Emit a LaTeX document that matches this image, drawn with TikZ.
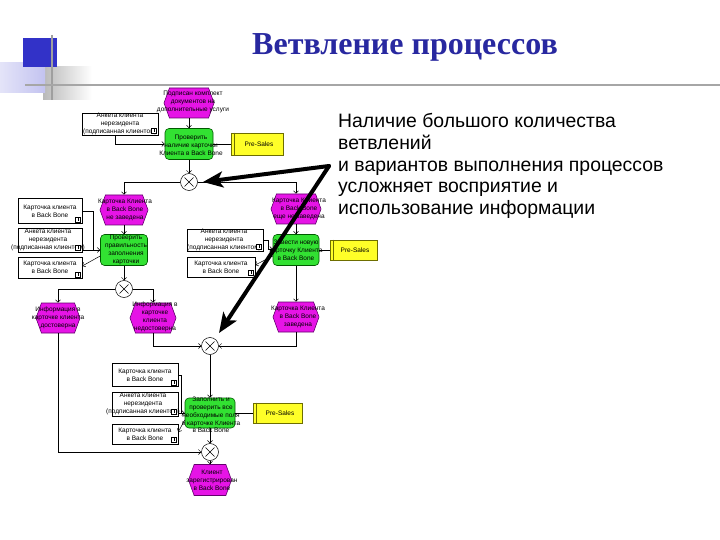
\documentclass[tikz,border=0pt]{standalone}
\usepackage{fontspec}
\setmainfont{Liberation Sans}
\newfontfamily\titlefont{Liberation Serif}
\usetikzlibrary{shapes.symbols,arrows.meta,calc}
\definecolor{evfill}{RGB}{230,20,230}
\definecolor{evdraw}{RGB}{100,0,110}
\definecolor{fnfill}{RGB}{50,225,50}
\definecolor{fndraw}{RGB}{0,90,0}
\definecolor{orgfill}{RGB}{255,255,40}
\definecolor{orgdraw}{RGB}{110,110,0}
\definecolor{titleblue}{RGB}{40,40,160}
\definecolor{lav}{RGB}{195,195,240}
\definecolor{sqblue}{RGB}{50,50,200}
\begin{document}
\begin{tikzpicture}[x=1pt,y=-1pt,
  ev/.style={signal, signal to=east and west, signal pointer angle=140,
    draw=evdraw, fill=evfill, line width=0.6pt, minimum width=#1,
    minimum height=30pt, inner sep=0pt},
  ev/.default=48pt,
  fn/.style={draw=fndraw, fill=fnfill, line width=0.6pt, rounded corners=4pt,
    minimum width=#1, minimum height=31pt, inner sep=0pt},
  fn/.default=48pt,
  docbox/.style={draw=black, fill=white, line width=0.5pt, inner sep=0pt},
  orgbox/.style={draw=orgdraw, fill=orgfill, line width=0.6pt, inner sep=0pt,
    minimum height=20pt},
  xor/.style={circle, draw=black, fill=white, line width=0.5pt, minimum size=17pt,
    inner sep=0pt, path picture={
      \draw[line width=0.5pt] ([shift={(-4.5pt,-4.5pt)}]path picture bounding box.center)
        -- ([shift={(4.5pt,4.5pt)}]path picture bounding box.center);
      \draw[line width=0.5pt] ([shift={(-4.5pt,4.5pt)}]path picture bounding box.center)
        -- ([shift={(4.5pt,-4.5pt)}]path picture bounding box.center);}},
  lbl/.style={font=\fontsize{6.5}{7.8}\selectfont, align=center, inner sep=0pt, text=black},
  conn/.style={draw=black, line width=0.5pt, -{Straight Barb[length=2.5pt,width=5pt]}},
  plain/.style={draw=black, line width=0.5pt},
  bigarrow/.style={draw=black, line width=4pt, line cap=round,
    -{Stealth[length=20pt,width=16pt,inset=5pt]}},
  icon/.style={draw=black, line width=0.4pt}
]
\useasboundingbox (0,0) rectangle (720,540);
\fill[white] (0,0) rectangle (720,540);

% decoration
\shade[left color=gray!55, right color=white] (43,67) rectangle (92,100);
\shade[left color=lav!45!white, right color=lav] (0,63) rectangle (45,93);
\fill[sqblue] (23,38) rectangle (57,67);
\draw[gray!75, line width=1.2pt] (52,35) -- (52,100);
\draw[gray!70, line width=1.6pt] (25,85) -- (720,85);

% title
\node[font=\titlefont\bfseries\fontsize{32}{38}\selectfont, text=titleblue, anchor=base, inner sep=0pt]
  (title) at (405,55) {Ветвление процессов};

% right text
\node[font=\fontsize{19.4}{21.8}\selectfont, align=left, anchor=north west, inner sep=0pt]
  (note) at (338,113) {Наличие большого количества\\ветвлений\\и вариантов выполнения процессов\\усложняет восприятие и\\использование информации};

% ---------- top section
\node[ev=50pt] (e0) at (189,103) {};
\node[lbl] (te0) at (193,102) {Подписан комплект\\документов на\\дополнительные услуги};
\node[fn=48pt] (f0) at (189,144) {};
\node[lbl] (tf0) at (191,145) {Проверить\\наличие карточки\\Клиента в Back Bone};
\node[docbox, minimum width=76pt, minimum height=22pt] (d0) at (120,124) {};
\node[lbl] (td0) at (120,124) {Анкета клиента\\нерезидента\\(подписанная клиентом)};
\node[orgbox, minimum width=52pt, minimum height=22pt] (o0) at (257,144) {};
\node[lbl] (to0) at (259,144) {Pre-Sales};
\node[xor] (x0) at (189,182) {};

% ---------- second level
\node[ev=48pt] (e1L) at (124,210) {};
\node[lbl] (te1L) at (125,210) {Карточка Клиента\\в Back Bone\\не заведена};
\node[ev=50pt] (e1R) at (296,209) {};
\node[lbl] (te1R) at (299,209) {Карточка Клиента\\в Back Bone\\еще не заведена};

\node[docbox, minimum width=64pt, minimum height=25pt] (dL1) at (50,211) {};
\node[lbl] (tdL1) at (50,211) {Карточка клиента\\в Back Bone};
\node[docbox, minimum width=64pt, minimum height=24pt] (dL2) at (50,240) {};
\node[lbl] (tdL2) at (48,240) {Анкета клиента\\нерезидента\\(подписанная клиентом)};
\node[docbox, minimum width=64pt, minimum height=21pt] (dL3) at (50,268) {};
\node[lbl] (tdL3) at (50,267) {Карточка клиента\\в Back Bone};
\node[fn=47pt] (f1L) at (124,250) {};
\node[lbl] (tf1L) at (126,250) {Проверить\\правильность\\заполнения\\карточки};

\node[fn=46pt] (f1R) at (296,250) {};
\node[lbl] (tf1R) at (296,250) {Завести новую\\карточку Клиента\\в Back Bone};
\node[orgbox, minimum width=47pt] (oR) at (353.5,250) {};
\node[lbl] (toR) at (355,250) {Pre-Sales};
\node[docbox, minimum width=76pt, minimum height=22pt] (dR1) at (225,240) {};
\node[lbl] (tdR1) at (224,240) {Анкета клиента\\нерезидента\\(подписанная клиентом)};
\node[docbox, minimum width=68pt, minimum height=20pt] (dR2) at (221,267) {};
\node[lbl] (tdR2) at (221,267) {Карточка клиента\\в Back Bone};

\node[xor] (x1) at (124,289) {};

% ---------- third level
\node[ev=44pt] (e2a) at (58,318) {};
\node[lbl] (te2a) at (58,318) {Информация в\\карточке клиента\\достоверна};
\node[ev=46pt] (e2b) at (153,318) {};
\node[lbl] (te2b) at (155,317) {Информация в\\карточке\\клиента\\недостоверна};
\node[ev=46pt] (e2c) at (296,317) {};
\node[lbl] (te2c) at (298,317) {Карточка Клиента\\в Back Bone\\заведена};
\node[xor] (x2) at (210,346) {};

% ---------- fourth level
\node[fn=50pt, minimum height=30pt] (f2) at (210,413) {};
\node[lbl] (tf2) at (211,415) {Заполнить и\\проверить все\\необходимые поля\\в карточке Клиента\\в Back Bone};
\node[docbox, minimum width=66pt, minimum height=23pt] (dM1) at (145,375) {};
\node[lbl] (tdM1) at (145,375) {Карточка клиента\\в Back Bone};
\node[docbox, minimum width=66pt, minimum height=24pt] (dM2) at (145,404) {};
\node[lbl] (tdM2) at (143,404) {Анкета клиента\\нерезидента\\(подписанная клиентом)};
\node[docbox, minimum width=66pt, minimum height=20pt] (dM3) at (145,434) {};
\node[lbl] (tdM3) at (145,434) {Карточка клиента\\в Back Bone};
\node[orgbox, minimum width=49pt] (oM) at (277.5,413) {};
\node[lbl] (toM) at (280,413) {Pre-Sales};
\node[xor] (x3) at (210,452) {};
\node[ev=43pt, minimum height=31pt] (e3) at (210,480) {};
\node[lbl] (te3) at (212,480) {Клиент\\зарегистрирован\\в Back Bone};

% org unit inner lines
\foreach \o in {o0,oR,oM}{
  \draw[orgdraw, line width=0.6pt] ([shift={(4,0)}]\o.north west) -- ([shift={(4,0)}]\o.south west);
}
% document icons
\foreach \d in {d0,dL1,dL2,dL3,dR1,dR2,dM1,dM2,dM3}{
  \draw[icon, fill=white] ([shift={(-7,-7)}]\d.south east) rectangle ([shift={(-2,-2)}]\d.south east);
  \draw[icon] ([shift={(-4.5,-6)}]\d.south east) -- ([shift={(-4.5,-3)}]\d.south east);
}

% ---------- connectors
\draw[conn] (e0.south) -- (e0.south |- f0.north);
\draw[conn] ([shift={(-5,0)}]d0.south) |- (f0.west);
\draw[plain] (f0.east) -- (o0.west);
\draw[conn] (f0.south) -- (x0.north);
\draw[conn] (x0.west) -| (e1L.north);
\draw[conn] (x0.east) -| (e1R.north);

\draw[conn] (e1L.south) -- (f1L.north);
\coordinate (jL) at ($(dL2.east |- f1L.west)+(11,0)$);
\draw[plain] (dL1.east) -| (jL);
\draw[conn] (dL2.east |- f1L.west) -- (f1L.west);
\draw[conn] ([shift={(0,6)}]f1L.west) -- ([shift={(0,-2)}]dL3.east);
\draw[conn] (f1L.south) -- (x1.north);
\draw[conn] (x1.west) -| (e2a.north);
\draw[conn] (x1.east) -| (e2b.north);

\draw[conn] (e1R.south) -- (f1R.north);
\draw[plain] (f1R.east) -- (oR.west);
\coordinate (jR) at ($(dR1.east)+(5,0)$);
\draw[conn] (dR1.east) -- (jR) |- ([shift={(0,-1)}]f1R.west);
\draw[conn] ([shift={(0,6)}]f1R.west) -- ([shift={(0,-2)}]dR2.east);
\draw[conn] (f1R.south) -- (e2c.north);

\draw[conn] (e2b.south) |- (x2.west);
\draw[conn] (e2c.south) |- (x2.east);
\draw[conn] (x2.south) -- (f2.north);

\coordinate (jM) at ($(dM1.east)+(3,0)$);
\draw[plain] (dM1.east) -- (jM) |- (f2.west);
\draw[conn] (dM2.east |- f2.west) -- (f2.west);
\draw[conn] ([shift={(0,7)}]f2.west) -- ([shift={(0,-2)}]dM3.east);
\draw[plain] (f2.east) -- (oM.west);
\draw[conn] (f2.south) -- (x3.north);
\draw[conn] (e2a.south) |- (x3.west);
\draw[conn] (x3.south) -- (e3.north);

% ---------- big arrows
\coordinate (bs) at (329,166);
\coordinate (b1) at (203,182);
\coordinate (b2) at (219,333);
\draw[bigarrow] (bs) -- (b1);
\draw[bigarrow] (bs) -- (b2);
\end{tikzpicture}
\end{document}
